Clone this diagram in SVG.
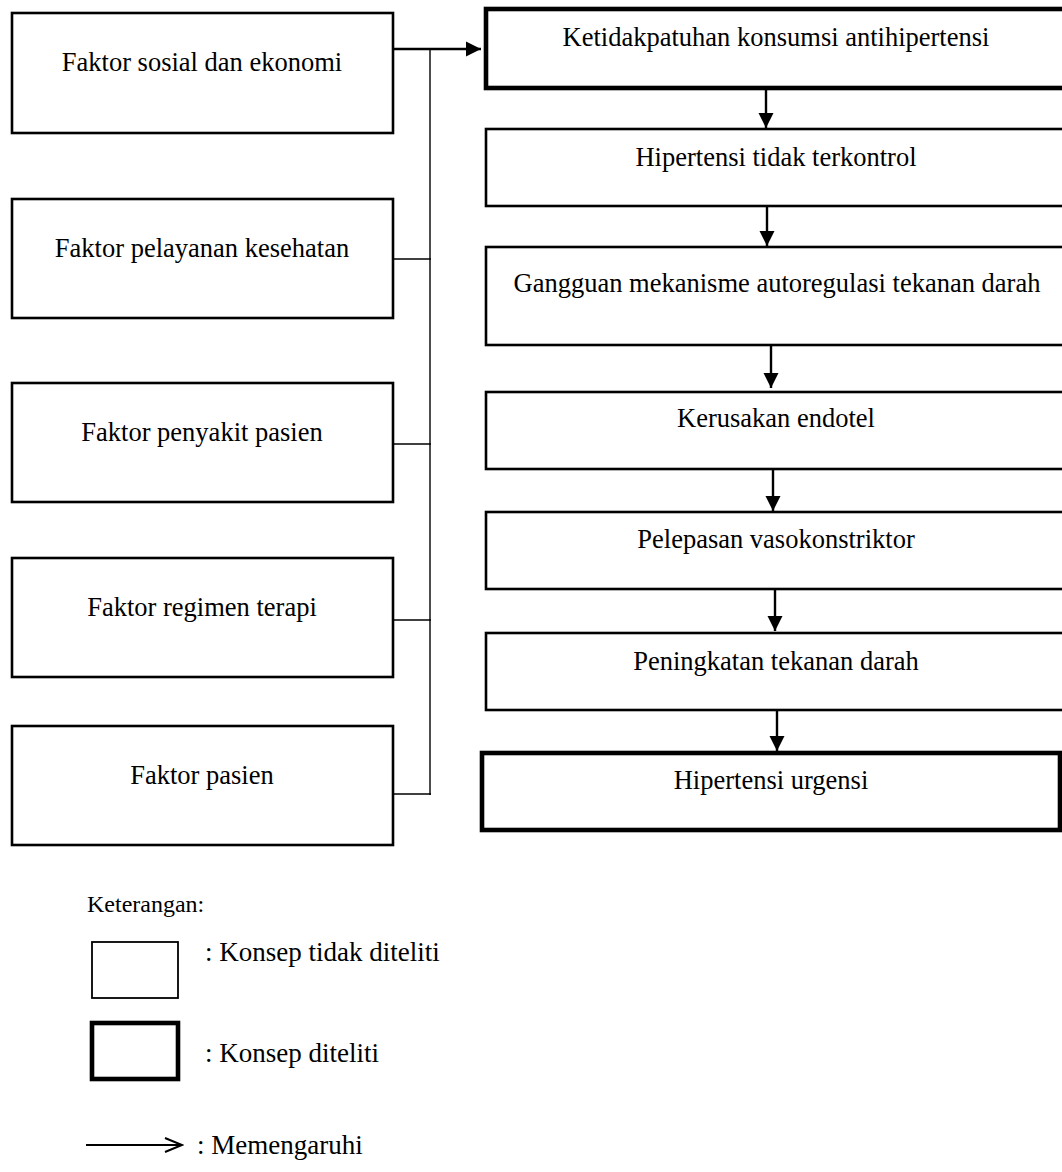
<svg xmlns="http://www.w3.org/2000/svg" width="1062" height="1172" viewBox="0 0 1062 1172">
<style>
.bg{fill:#fff}
.box{fill:#fff;stroke:#000;stroke-width:2.6}
.thick{fill:#fff;stroke:#000;stroke-width:4.6}
.t{font-family:"Liberation Serif","Times New Roman",serif;font-size:26.5px;fill:#000;text-anchor:middle}
.lt{font-family:"Liberation Serif","Times New Roman",serif;font-size:27px;fill:#000}
.bus{stroke:#000;stroke-width:1.4;fill:none}
.arr{stroke:#000;stroke-width:2.4;fill:none}
</style>
<defs>
<marker id="ah" markerWidth="16" markerHeight="16" refX="15" refY="8" orient="auto" markerUnits="userSpaceOnUse">
<path d="M0,0.5 L15,8 L0,15.5 Z" fill="#000"/>
</marker>
<marker id="open" markerWidth="20" markerHeight="20" refX="18" refY="10" orient="auto" markerUnits="userSpaceOnUse">
<path d="M1,3 L18,10 L1,17" fill="none" stroke="#000" stroke-width="2"/>
</marker>
</defs>
<rect class="bg" x="0" y="0" width="1062" height="1172"/>

<g id="f1"><rect class="box" x="12" y="13" width="381" height="120"/><text class="t" x="202" y="71">Faktor sosial dan ekonomi</text></g>
<g id="f2"><rect class="box" x="12" y="199" width="381" height="119"/><text class="t" x="202" y="257">Faktor pelayanan kesehatan</text></g>
<g id="f3"><rect class="box" x="12" y="383" width="381" height="119"/><text class="t" x="202" y="441">Faktor penyakit pasien</text></g>
<g id="f4"><rect class="box" x="12" y="558" width="381" height="119"/><text class="t" x="202" y="616">Faktor regimen terapi</text></g>
<g id="f5"><rect class="box" x="12" y="726" width="381" height="119"/><text class="t" x="202" y="784">Faktor pasien</text></g>

<g id="r1"><rect class="thick" x="486" y="9" width="590" height="79"/><text class="t" x="776" y="46">Ketidakpatuhan konsumsi antihipertensi</text></g>
<g id="r2"><rect class="box" x="486" y="129" width="590" height="77"/><text class="t" x="776" y="166">Hipertensi tidak terkontrol</text></g>
<g id="r3"><rect class="box" x="486" y="247" width="590" height="98"/><text class="t" x="777" y="292">Gangguan mekanisme autoregulasi tekanan darah</text></g>
<g id="r4"><rect class="box" x="486" y="392" width="590" height="77"/><text class="t" x="776" y="427">Kerusakan endotel</text></g>
<g id="r5"><rect class="box" x="486" y="512" width="590" height="77"/><text class="t" x="776" y="548">Pelepasan vasokonstriktor</text></g>
<g id="r6"><rect class="box" x="486" y="633" width="590" height="77"/><text class="t" x="776" y="670">Peningkatan tekanan darah</text></g>
<g id="r7"><rect class="thick" x="482" y="753" width="578" height="77"/><text class="t" x="771" y="789">Hipertensi urgensi</text></g>

<g id="connectors">
<line class="bus" x1="430" y1="49" x2="430" y2="795"/>
<line class="bus" x1="393" y1="259" x2="431" y2="259"/>
<line class="bus" x1="393" y1="444" x2="431" y2="444"/>
<line class="bus" x1="393" y1="620" x2="431" y2="620"/>
<line class="bus" x1="393" y1="794" x2="431" y2="794"/>
<line class="arr" x1="393" y1="49" x2="481" y2="49" marker-end="url(#ah)"/>
<line class="arr" x1="766" y1="88" x2="766" y2="128" marker-end="url(#ah)"/>
<line class="arr" x1="767" y1="206" x2="767" y2="246" marker-end="url(#ah)"/>
<line class="arr" x1="771" y1="346" x2="771" y2="388" marker-end="url(#ah)"/>
<line class="arr" x1="773" y1="470" x2="773" y2="511" marker-end="url(#ah)"/>
<line class="arr" x1="775" y1="590" x2="775" y2="631" marker-end="url(#ah)"/>
<line class="arr" x1="777" y1="711" x2="777" y2="751" marker-end="url(#ah)"/>
</g>

<g id="legend">
<text class="lt" x="87" y="912" style="font-size:24px">Keterangan:</text>
<rect class="box" x="92" y="942" width="86" height="56" style="stroke-width:1.8"/>
<text class="lt" x="205" y="961">: Konsep tidak diteliti</text>
<rect class="thick" x="92" y="1023" width="86" height="56"/>
<text class="lt" x="205" y="1062">: Konsep diteliti</text>
<line x1="86" y1="1145" x2="182" y2="1145" stroke="#000" stroke-width="1.8" marker-end="url(#open)"/>
<text class="lt" x="197" y="1154">: Memengaruhi</text>
</g>
</svg>
